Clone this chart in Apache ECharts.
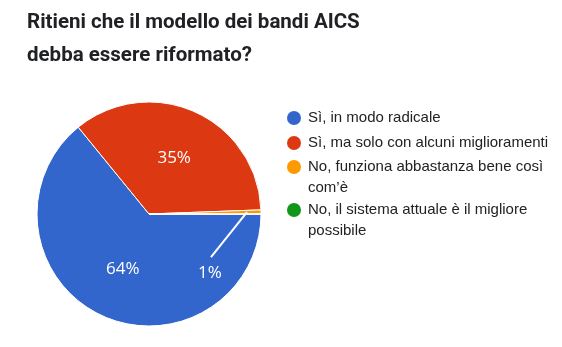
<!DOCTYPE html>
<html><head><meta charset="utf-8">
<script src="https://cdn.jsdelivr.net/npm/echarts@6/dist/echarts.min.js"></script>
<style>html,body{margin:0;padding:0;background:#fff}#c{width:562px;height:347px}</style>
</head><body><div id="c"></div>
<script>
const titleLines = ['Ritieni che il modello dei bandi AICS', 'debba essere riformato?'];
const categories = ['Sì, in modo radicale', 'Sì, ma solo con alcuni miglioramenti', 'No, funziona abbastanza bene così com’è', 'No, il sistema attuale è il migliore possibile'];
const legendLines = [['Sì, in modo radicale'], ['Sì, ma solo con alcuni miglioramenti'], ['No, funziona abbastanza bene così', 'com’è'], ['No, il sistema attuale è il migliore', 'possibile']];
const counts = [109, 60, 1, 0];
const colors = ['#3366cc', '#dc3912', '#ff9900', '#109618'];

const chart = echarts.init(document.getElementById('c'), null, {renderer: 'canvas'});
const CX = 149, CY = 214, R = 112, LH = 21;
const total = counts.reduce((a, b) => a + b, 0);
const mids = [];
let acc = 0;
counts.forEach(v => { mids.push((acc + v / 2) / total * 2 * Math.PI); acc += v; });
const polar = (r, a) => [CX + r * Math.cos(a), CY + r * Math.sin(a)];

// icon for two-line legend entries: circle aligned with first text line
const tallIcon = 'path://M7,0L7,0M14,10.5A7,7,0,1,1,0,10.5A7,7,0,1,1,14,10.5ZM7,42L7,42';
function makeLegend(indices, top, tall) {
  return {
    orient: 'vertical', left: 287, top: top, padding: 0, itemGap: 4,
    itemWidth: 14, itemHeight: tall ? 42 : 14,
    itemStyle: {borderWidth: 0},
    data: indices.map(i => ({name: categories[i], icon: tall ? tallIcon : 'circle'})),
    formatter: n => legendLines[categories.indexOf(n)].join('\n'),
    textStyle: {fontFamily: 'Arial', fontSize: 15, color: '#222', lineHeight: LH, padding: [0, 0, 0, 2]}
  };
}
const labelFmt = p => Math.round(p.percent) + '%';
const labelFont = {color: '#fff', fontFamily: 'Open Sans', fontSize: 17};

const option = {
  backgroundColor: '#fff',
  animation: false,
  title: {
    text: titleLines.join('\n'), left: 27, top: 6.5, padding: 0,
    textStyle: {fontFamily: 'Roboto', fontWeight: 'bold', fontSize: 20.5, color: '#202124', lineHeight: 33}
  },
  legend: [
    makeLegend([0, 1], 107.5, false),
    makeLegend([2], 156.5, true),
    makeLegend([3], 199.5, true)
  ],
  series: [{
    type: 'pie', center: [CX, CY], radius: R, startAngle: 0, clockwise: true, z: 2,
    avoidLabelOverlap: false,
    itemStyle: {borderColor: '#fff', borderWidth: 1},
    label: Object.assign({show: true, position: 'inside', formatter: labelFmt}, labelFont),
    labelLine: {show: false},
    data: categories.map((n, i) => ({
      name: n, value: counts[i], itemStyle: {color: colors[i]},
      label: {show: i < 2}
    })),
    labelLayout: function (p) {
      const q = polar(0.545 * R, mids[p.dataIndex]);
      return {x: q[0], y: q[1], align: 'center', verticalAlign: 'middle'};
    }
  }, {
    // overlay for the small-slice label and its leader line, drawn above the slices
    type: 'pie', center: [CX, CY], radius: R, startAngle: 0, clockwise: true, z: 3,
    silent: true, legendHoverLink: false, avoidLabelOverlap: false,
    itemStyle: {color: 'rgba(0,0,0,0)', borderWidth: 0},
    label: Object.assign({show: true, position: 'outside', formatter: labelFmt}, labelFont),
    labelLine: {show: true, lineStyle: {color: '#fff', width: 2}},
    data: categories.map((n, i) => ({
      name: n, value: counts[i],
      label: {show: i === 2}, labelLine: {show: i === 2}
    })),
    labelLayout: function (p) {
      const s = polar(0.875 * R, mids[p.dataIndex]);
      const e = [s[0] - 36, s[1] + 45];
      return {x: e[0] - 1, y: e[1] + 16, align: 'center', verticalAlign: 'middle',
        labelLinePoints: [s, e, e]};
    }
  }]
};
chart.setOption(option);
</script>
</body></html>
